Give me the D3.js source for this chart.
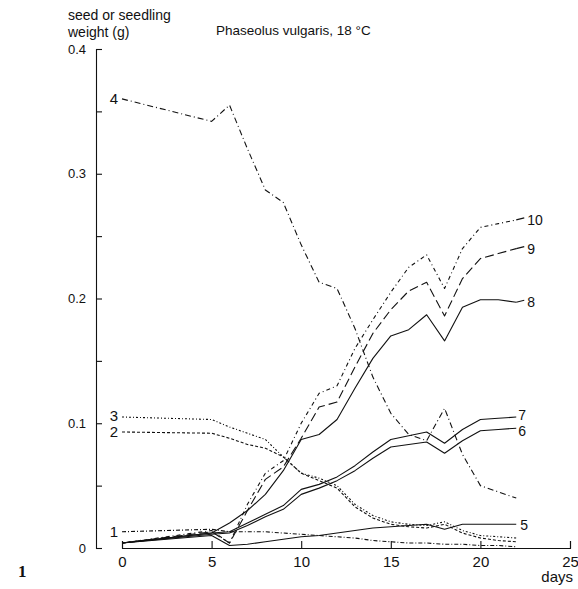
<!DOCTYPE html>
<html><head><meta charset="utf-8">
<script src="https://cdn.jsdelivr.net/npm/d3@7/dist/d3.min.js"></script>
<style>
html,body{margin:0;padding:0;background:#fff;}
svg{display:block;}
text{font-family:"Liberation Sans","DejaVu Sans",sans-serif;fill:#111;}
</style></head>
<body>
<script>
// ---- data ----
const days = [0,5,6,7,8,9,10,11,12,13,14,15,16,17,18,19,20,21,22];
const s1  = [0.013,0.015,0.013,0.013,0.013,0.012,0.011,0.010,0.009,0.008,0.006,0.005,0.004,0.004,0.003,0.003,0.002,0.002,0.001];
const s2  = [0.093,0.092,0.088,0.083,0.080,0.073,0.060,0.054,0.048,0.033,0.024,0.019,0.017,0.016,0.019,0.012,0.008,0.006,0.005];
const s3  = [0.105,0.103,0.097,0.092,0.087,0.073,0.060,0.056,0.050,0.035,0.026,0.021,0.019,0.018,0.021,0.014,0.010,0.009,0.008];
const s4  = [0.360,0.342,0.355,0.320,0.287,0.277,0.243,0.213,0.208,0.176,0.137,0.108,0.091,0.086,0.112,0.075,0.050,0.045,0.040];
const s5  = [0.004,0.010,0.002,0.003,0.005,0.007,0.009,0.010,0.012,0.014,0.016,0.017,0.018,0.019,0.015,0.019,0.019,0.019,0.019];
const s6  = [0.004,0.011,0.012,0.018,0.025,0.031,0.043,0.048,0.054,0.062,0.072,0.081,0.083,0.085,0.076,0.086,0.094,0.095,0.096];
const s7  = [0.004,0.012,0.013,0.020,0.027,0.034,0.047,0.051,0.057,0.066,0.077,0.087,0.090,0.093,0.084,0.095,0.103,0.104,0.105];
const s8  = [0.004,0.012,0.020,0.030,0.043,0.062,0.087,0.091,0.103,0.128,0.152,0.170,0.175,0.187,0.166,0.193,0.199,0.199,0.197];
const s9  = [0.004,0.013,0.004,0.030,0.055,0.065,0.088,0.113,0.117,0.145,0.172,0.191,0.206,0.213,0.186,0.216,0.232,0.236,0.240];
const s10 = [0.004,0.014,0.004,0.035,0.060,0.070,0.100,0.124,0.130,0.160,0.183,0.205,0.225,0.235,0.208,0.240,0.257,0.260,0.263];
const seriesNames = ["1","2","3","4","5","6","7","8","9","10"];
const xTicks = [0,5,10,15,20,25];
const yTicks = [0,0.05,0.1,0.15,0.2,0.25,0.3,0.35,0.4];
const yTickLabels = {"0":"0","0.1":"0.1","0.2":"0.2","0.3":"0.3","0.4":"0.4"};
const title = "Phaseolus vulgaris, 18 °C";
const yTitle = ["seed or seedling","weight (g)"];
const xTitle = "days";

// ---- styles (not data) ----
const dashes = {"1":"4,2,1,2","2":"3,2","3":"2,2,1,2","4":"6,3,1,3","5":null,"6":null,"7":null,"8":null,"9":"9,4","10":"4,3,1,3"};
const labelPos = {
  "1":{side:"left",dy:0},"2":{side:"left",dy:0},"3":{side:"left",dy:-1},"4":{side:"left",dy:0},
  "5":{side:"right",dx:4,dy:1},"6":{side:"right",dx:2,dy:3},"7":{side:"right",dx:2,dy:-2},
  "8":{side:"right",dx:11,dy:0},"9":{side:"right",dx:11,dy:0},"10":{side:"right",dx:11,dy:0}
};

const allSeries = [s1,s2,s3,s4,s5,s6,s7,s8,s9,s10];

const W=578,H=589;
const svg = d3.select("body").append("svg").attr("width",W).attr("height",H);

const x = d3.scaleLinear().domain([0,25]).range([122,570]);
const y = d3.scaleLinear().domain([0,0.4]).range([548,49]);

// y axis (offset at x=96, inward ticks)
const yAxis = d3.axisLeft(y).tickValues(yTicks).tickSizeInner(-6).tickSizeOuter(-6).tickPadding(10)
  .tickFormat(d => { const k = String(+d.toFixed(2)); return yTickLabels[k] !== undefined ? yTickLabels[k] : ""; });
const gy = svg.append("g").attr("transform","translate(96,0)").call(yAxis);
gy.selectAll("text").style("font-size","13px");
gy.selectAll("path,line").attr("stroke","#111").attr("stroke-width",1.1);

// x axis (inward ticks)
const xAxis = d3.axisBottom(x).tickValues(xTicks).tickSizeInner(-7).tickSizeOuter(-7).tickPadding(8).tickFormat(d3.format("d"));
const gx = svg.append("g").attr("transform","translate(0,548)").call(xAxis);
gx.selectAll("text").style("font-size","15px");
gx.selectAll("path,line").attr("stroke","#111").attr("stroke-width",1.1);
svg.selectAll(".domain").attr("fill","none");

// lines
const line = d3.line().x((d,i)=>x(days[i])).y(d=>y(d));
allSeries.forEach((s,i)=>{
  const name = seriesNames[i];
  svg.append("path").datum(s).attr("d",line)
    .attr("fill","none").attr("stroke","#111").attr("stroke-width",1.1)
    .attr("stroke-linejoin","round")
    .attr("stroke-dasharray",dashes[name]);
  const lp = labelPos[name];
  if(lp.side==="left"){
    svg.append("text").attr("x",x(days[0])-4).attr("y",y(s[0])+(lp.dy||0)).attr("dy","0.35em")
      .attr("text-anchor","end").style("font-size","15px").text(name);
  } else {
    const last = s.length-1;
    if(lp.dx>6){
      svg.append("line").attr("x1",x(days[last])).attr("x2",x(days[last])+lp.dx-3)
        .attr("y1",y(s[last])).attr("y2",y(s[last])-2).attr("stroke","#111").attr("stroke-width",1.1);
    }
    svg.append("text").attr("x",x(days[last])+lp.dx).attr("y",y(s[last])+(lp.dy||0)).attr("dy","0.35em")
      .style("font-size","14px").text(name);
  }
});

// titles
svg.append("text").attr("x",216).attr("y",35).style("font-size","13.5px").text(title);
svg.append("text").attr("x",68).attr("y",20).style("font-size","14px").text(yTitle[0]);
svg.append("text").attr("x",68).attr("y",37).style("font-size","14px").text(yTitle[1]);
svg.append("text").attr("x",573).attr("y",582).attr("text-anchor","end").style("font-size","15px").text(xTitle);
svg.append("text").attr("x",18).attr("y",577).style("font-family","'Liberation Serif','DejaVu Serif',serif")
  .style("font-size","17px").style("font-weight","bold").text("1");
</script>
</body></html>
